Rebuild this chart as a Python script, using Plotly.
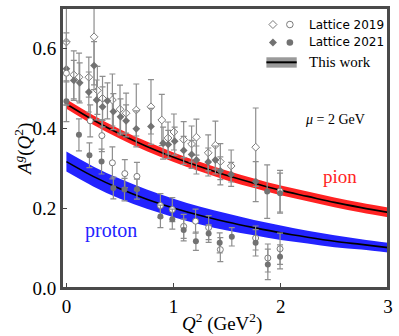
import plotly.graph_objects as go

# ---------------- data ----------------
# Lattice 2019, diamonds (open)
q_od = [0.000, 0.069, 0.118, 0.209, 0.258, 0.289, 0.337, 0.429, 0.500, 0.557, 0.652, 0.789,
        0.890, 0.948, 1.003, 1.094, 1.168, 1.213, 1.323, 1.390, 1.436, 1.537, 1.766]
a_od = [0.615, 0.533, 0.527, 0.527, 0.628, 0.494, 0.474, 0.470, 0.447, 0.437, 0.445, 0.453,
        0.420, 0.375, 0.390, 0.371, 0.360, 0.377, 0.338, 0.357, 0.316, 0.305, 0.352]
e_od = [0.100, 0.060, 0.060, 0.050, 0.120, 0.060, 0.055, 0.065, 0.060, 0.050, 0.065, 0.068,
        0.064, 0.040, 0.045, 0.045, 0.045, 0.045, 0.045, 0.060, 0.045, 0.040, 0.098]

# Lattice 2021, diamonds (filled)
q_fd = [0.000, 0.069, 0.124, 0.209, 0.258, 0.282, 0.337, 0.383, 0.438, 0.505, 0.557, 0.652,
        0.789, 0.902, 0.950, 1.010, 1.094, 1.168, 1.213, 1.323, 1.390, 1.436, 1.537, 1.766]
a_fd = [0.548, 0.519, 0.513, 0.490, 0.556, 0.470, 0.453, 0.468, 0.441, 0.428, 0.418, 0.398,
        0.404, 0.362, 0.359, 0.367, 0.344, 0.334, 0.320, 0.315, 0.320, 0.293, 0.284, 0.266]
e_fd = [0.090, 0.050, 0.050, 0.050, 0.060, 0.050, 0.050, 0.045, 0.045, 0.045, 0.040, 0.045,
        0.045, 0.040, 0.035, 0.035, 0.035, 0.035, 0.035, 0.035, 0.035, 0.035, 0.030, 0.050]

# Lattice 2019, circles (open)
q_oc = [0.000, 0.222, 0.331, 0.429, 0.545, 0.658, 0.877, 0.988, 1.094, 1.205, 1.327, 1.436,
        1.765, 1.879, 1.993, 1.993]
a_oc = [0.537, 0.418, 0.381, 0.313, 0.286, 0.279, 0.206, 0.196, 0.154, 0.167, 0.151, 0.096,
        0.125, 0.075, 0.098, 0.242]
e_oc = [0.080, 0.040, 0.040, 0.040, 0.035, 0.035, 0.030, 0.030, 0.030, 0.030, 0.030, 0.030,
        0.030, 0.035, 0.039, 0.052]

# Lattice 2021, circles (filled)
q_fc = [0.000, 0.117, 0.215, 0.328, 0.438, 0.542, 0.658, 0.877, 0.988, 1.094, 1.208, 1.327,
        1.430, 1.543, 1.765, 1.873, 1.879, 1.993, 1.993]
a_fc = [0.467, 0.383, 0.332, 0.316, 0.250, 0.246, 0.247, 0.179, 0.172, 0.145, 0.117, 0.136,
        0.113, 0.128, 0.113, 0.241, 0.059, 0.078, 0.237]
e_fc = [0.051, 0.040, 0.031, 0.031, 0.027, 0.028, 0.025, 0.028, 0.025, 0.027, 0.023, 0.022,
        0.025, 0.023, 0.033, 0.067, 0.038, 0.030, 0.050]

# "This work" bands
q_band = [0.0, 0.25, 0.5, 0.75, 1.0, 1.25, 1.5, 1.75, 2.0, 2.25, 2.5, 2.75, 3.0]
pion_mid = [0.460, 0.420, 0.385, 0.354, 0.327, 0.303, 0.281, 0.262, 0.244, 0.229, 0.214, 0.201, 0.189]
pion_err = [0.012, 0.012, 0.012, 0.012, 0.012, 0.012, 0.012, 0.012, 0.012, 0.012, 0.012, 0.012, 0.012]
prot_mid = [0.316, 0.279, 0.248, 0.222, 0.200, 0.181, 0.165, 0.151, 0.138, 0.127, 0.117, 0.109, 0.101]
prot_err = [0.025, 0.025, 0.025, 0.024, 0.023, 0.022, 0.021, 0.019, 0.018, 0.016, 0.015, 0.013, 0.012]

x_ticks = [0, 1, 2, 3]
y_ticks = [0.0, 0.2, 0.4, 0.6]
y_ticktext = ["0.0", "0.2", "0.4", "0.6"]

# ---------------- styles ----------------
RED = "rgb(255,35,35)"
BLUE = "rgb(35,35,255)"
ERR = "#8e8e8e"
FILL = "#727272"
OPEN = "#7c7c7c"
FRAME = "#4a4a4a"
SERIF = "Liberation Serif"
SANS = "DejaVu Sans"

fig = go.Figure()


def band(mid, err, color):
    lo = [m - e for m, e in zip(mid, err)]
    hi = [m + e for m, e in zip(mid, err)]
    fig.add_trace(go.Scatter(x=q_band, y=lo, mode="lines", line=dict(width=0, shape="spline"),
                             hoverinfo="skip", showlegend=False))
    fig.add_trace(go.Scatter(x=q_band, y=hi, mode="lines", line=dict(width=0, shape="spline"),
                             fill="tonexty", fillcolor=color, hoverinfo="skip", showlegend=False))
    fig.add_trace(go.Scatter(x=q_band, y=mid, mode="lines",
                             line=dict(width=1.6, color="black", shape="spline"),
                             hoverinfo="skip", showlegend=False))


band(pion_mid, pion_err, RED)
band(prot_mid, prot_err, BLUE)


def points(q, a, e, symbol, filled, size):
    fig.add_trace(go.Scatter(
        x=q, y=a, mode="markers",
        error_y=dict(type="data", array=e, visible=True, color=ERR, thickness=1.2, width=3),
        marker=dict(symbol=symbol, size=size,
                    color=FILL if filled else "white",
                    line=dict(color=FILL if filled else OPEN, width=1 if not filled else 0)),
        showlegend=False, cliponaxis=True))


points(q_od, a_od, e_od, "diamond", False, 6)
points(q_fd, a_fd, e_fd, "diamond", True, 6)
points(q_oc, a_oc, e_oc, "circle", False, 6)
points(q_fc, a_fc, e_fc, "circle", True, 6)

axis_common = dict(showgrid=False, zeroline=False, showline=True, linecolor=FRAME,
                   linewidth=2, mirror=True, ticks="inside", ticklen=5, tickwidth=1.2,
                   tickcolor="#444444", tickfont=dict(family=SERIF, size=19, color="black"))

fig.update_layout(
    width=399, height=336,
    margin=dict(l=62, r=6, t=6, b=48),
    paper_bgcolor="white", plot_bgcolor="white",
    showlegend=False,
    xaxis=dict(range=[-0.041, 3.0], tickvals=x_ticks, **axis_common),
    yaxis=dict(range=[0, 0.70], tickvals=y_ticks, ticktext=y_ticktext, **axis_common),
)

ann = []
ann.append(dict(text="<i>A</i><sup><i>g</i></sup>(<i>Q</i><sup>2</sup>)", textangle=-90,
                xref="paper", yref="paper", x=-0.12, y=0.496, xanchor="center", yanchor="middle",
                showarrow=False, font=dict(family=SERIF, size=19, color="black")))
ann.append(dict(text="<i>Q</i><sup>2</sup> (GeV<sup>2</sup>)",
                xref="paper", yref="paper", x=0.491, y=-0.122, xanchor="center", yanchor="middle",
                showarrow=False, font=dict(family=SERIF, size=19, color="black")))
ann.append(dict(text="pion", xref="x", yref="y", x=2.55, y=0.280, showarrow=False,
                font=dict(family=SERIF, size=19, color=RED)))
ann.append(dict(text="proton", xref="x", yref="y", x=0.412, y=0.143, showarrow=False,
                font=dict(family=SERIF, size=20, color=BLUE)))
ann.append(dict(text="<i>μ</i> = 2 GeV", xref="x", yref="y", x=2.51, y=0.421, showarrow=False,
                font=dict(family=SERIF, size=14, color="black")))
ann.append(dict(text="Lattice 2019", xref="paper", yref="paper", x=0.752, y=0.941,
                xanchor="left", yanchor="middle", showarrow=False,
                font=dict(family=SANS, size=12, color="black")))
ann.append(dict(text="Lattice 2021", xref="paper", yref="paper", x=0.752, y=0.877,
                xanchor="left", yanchor="middle", showarrow=False,
                font=dict(family=SANS, size=12, color="black")))
ann.append(dict(text="This work", xref="paper", yref="paper", x=0.752, y=0.806,
                xanchor="left", yanchor="middle", showarrow=False,
                font=dict(family=SERIF, size=15, color="black")))
fig.update_layout(annotations=ann)

shapes = []
# plot frame
shapes.append(dict(type="rect", xref="paper", yref="paper", x0=0, x1=1, y0=0, y1=1,
                   line=dict(color=FRAME, width=2), fillcolor="rgba(0,0,0,0)", layer="above"))
diamond_path = "M0,4L4,0L0,-4L-4,0Z"
for yy, filled in [(0.941, False), (0.877, True)]:
    shapes.append(dict(type="path", xref="paper", yref="paper", xsizemode="pixel", ysizemode="pixel",
                       xanchor=0.647, yanchor=yy, path=diamond_path,
                       fillcolor=FILL if filled else "white",
                       line=dict(color=FILL if filled else OPEN, width=1 if not filled else 0)))
    shapes.append(dict(type="circle", xref="paper", yref="paper", xsizemode="pixel", ysizemode="pixel",
                       xanchor=0.699, yanchor=yy, x0=-3.3, x1=3.3, y0=-3.3, y1=3.3,
                       fillcolor=FILL if filled else "white",
                       line=dict(color=FILL if filled else OPEN, width=1 if not filled else 0)))
shapes.append(dict(type="rect", xref="paper", yref="paper", x0=0.627, x1=0.720, y0=0.787, y1=0.824,
                   fillcolor="#9a9a9a", line=dict(width=0)))
shapes.append(dict(type="line", xref="paper", yref="paper", x0=0.627, x1=0.720, y0=0.806, y1=0.806,
                   line=dict(color="black", width=2)))
fig.update_layout(shapes=shapes)

fig.write_html("out.html", config={"displayModeBar": False},
               post_script="document.documentElement.style.overflow='hidden';"
                           "document.body.style.margin='0px';document.body.style.overflow='hidden';")
